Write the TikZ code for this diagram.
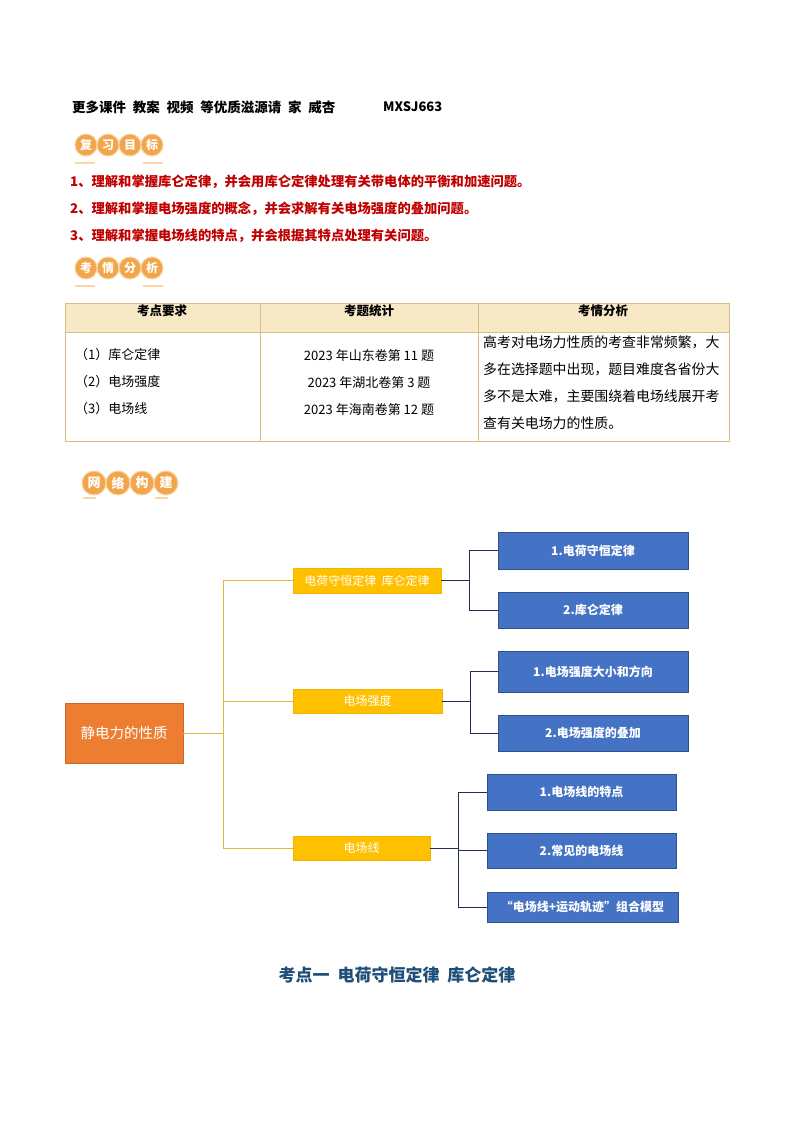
\documentclass[tikz,border=0pt]{standalone}
\usepackage{fontspec}
\setmainfont{Noto Sans CJK SC}
\usetikzlibrary{calc}
\definecolor{rootc}{HTML}{ED7D31}
\definecolor{rootd}{HTML}{C9672A}
\definecolor{yelc}{HTML}{FFC000}
\definecolor{yeld}{HTML}{F2B400}
\definecolor{bluec}{HTML}{4472C4}
\definecolor{blued}{HTML}{2F528F}
\definecolor{navyc}{HTML}{1F2F4F}
\definecolor{olinec}{HTML}{E8B43A}
\definecolor{redc}{HTML}{C00000}
\definecolor{titlec}{HTML}{1F4E79}
\definecolor{badgec}{HTML}{F2A54A}
\definecolor{badgel}{HTML}{F9D5A8}
\definecolor{theadc}{HTML}{F7E8C6}
\definecolor{tlinec}{HTML}{D8BD86}
\begin{document}
\begin{tikzpicture}[x=1pt,y=-1pt,
  fs/.style={font=\fontsize{#1}{#1}\selectfont},
  rootbox/.style={draw=rootd,fill=rootc,line width=0.6pt,text=white,inner sep=0pt,font=\fontsize{14.5}{16}\selectfont},
  ybox/.style={draw=yeld,fill=yelc,line width=0.6pt,text=white,inner sep=0pt,font=\fontsize{12}{14}\selectfont},
  bbox/.style={draw=blued,fill=bluec,line width=0.6pt,text=white,inner sep=0pt,font=\bfseries\fontsize{12}{14}\selectfont},
  oline/.style={draw=olinec,line width=1pt},
  nline/.style={draw=navyc,line width=1pt},
  badge/.style={circle,fill=badgec,draw=badgel,line width=1pt,minimum size=22pt,inner sep=0pt,text=white,font=\bfseries\fontsize{12}{12}\selectfont},
  badgeline/.style={draw=badgel,line width=2pt},
  redtext/.style={anchor=west,text=redc,inner sep=0pt,font=\bfseries\fontsize{13.3}{15}\selectfont},
  tline/.style={draw=tlinec,line width=0.9pt},
  ttext/.style={inner sep=0pt,font=\fontsize{13}{15}\selectfont},
  thead/.style={inner sep=0pt,font=\bfseries\fontsize{12.5}{15}\selectfont}
]
\useasboundingbox (0,0) rectangle (794,1123);
\fill[white] (0,0) rectangle (794,1123);

% header
\node[anchor=west,inner sep=0pt,font=\bfseries\fontsize{13.5}{15}\selectfont] (hdr) at (72,107) {更多课件\hskip .5em 教案\hskip .5em 视频\hskip .5em 等优质滋源请\hskip .5em 家\hskip .5em 威杏};
\node[anchor=west,inner sep=0pt,font=\bfseries\fontsize{13}{15}\selectfont] (code) at (383,107) {MXSJ663};

% badge 1
\foreach \ch [count=\i] in {复,习,目,标} {
  \node[badge] (ba\i) at ({64+22*\i},145) {\ch};
}
\draw[badgeline] (75,163) -- (95,163);
\draw[badgeline] (143,163) -- (163,163);

% goals
\node[redtext] (g1) at (70,182) {1、理解和掌握库仑定律，并会用库仑定律处理有关带电体的平衡和加速问题。};
\node[redtext] (g2) at (70,209) {2、理解和掌握电场强度的概念，并会求解有关电场强度的叠加问题。};
\node[redtext] (g3) at (70,236) {3、理解和掌握电场线的特点，并会根据其特点处理有关问题。};

% badge 2
\foreach \ch [count=\i] in {考,情,分,析} {
  \node[badge] (bb\i) at ({64+22*\i},268) {\ch};
}
\draw[badgeline] (75,286) -- (95,286);
\draw[badgeline] (143,286) -- (163,286);

% table
\fill[theadc] (65,303) rectangle (729,332);
\draw[tline] (65,303) rectangle (729,441);
\draw[tline] (65,332) -- (729,332);
\draw[tline] (260,303) -- (260,441);
\draw[tline] (478,303) -- (478,441);
\node[thead] (h1) at (162,311) {考点要求};
\node[thead] (h2) at (369,311) {考题统计};
\node[thead] (h3) at (603,311) {考情分析};
\node[ttext,anchor=west] (c11) at (75,355) {（1）库仑定律};
\node[ttext,anchor=west] (c12) at (75,382) {（2）电场强度};
\node[ttext,anchor=west] (c13) at (75,409) {（3）电场线};
\node[ttext] (c21) at (369,356) {2023 年山东卷第 11 题};
\node[ttext] (c22) at (369,383) {2023 年湖北卷第 3 题};
\node[ttext] (c23) at (369,410) {2023 年海南卷第 12 题};
\node[ttext,anchor=west,fs=13.9] (c31) at (483,342) {高考对电场力性质的考查非常频繁，大};
\node[ttext,anchor=west,fs=13.9] (c32) at (483,369) {多在选择题中出现，题目难度各省份大};
\node[ttext,anchor=west,fs=13.9] (c33) at (483,396) {多不是太难，主要围绕着电场线展开考};
\node[ttext,anchor=west,fs=13.9] (c34) at (483,423) {查有关电场力的性质。};

% badge 3
\foreach \ch [count=\i] in {网,络,构,建} {
  \node[badge,minimum size=24pt,font=\bfseries\fontsize{13}{13}\selectfont] (bc\i) at ({70+24*\i},483) {\ch};
}
\draw[badgeline] (83,498) -- (96,498);
\draw[badgeline] (155,498) -- (168,498);

% mind map
\node[rootbox,minimum width=118pt,minimum height=60pt] (root) at (124,733) {静电力的性质};
\node[ybox,minimum width=148pt,minimum height=25pt] (y1) at (367,580.5) {电荷守恒定律\ \ 库仑定律};
\node[ybox,minimum width=149pt,minimum height=24pt] (y2) at (367.5,701) {电场强度};
\node[ybox,minimum width=137pt,minimum height=24pt] (y3) at (361.5,848) {电场线};

\node[bbox,minimum width=190pt,minimum height=37pt] (b11) at (593,550.5) {1.电荷守恒定律};
\node[bbox,minimum width=190pt,minimum height=36pt] (b12) at (593,610) {2.库仑定律};
\node[bbox,minimum width=190pt,minimum height=41pt] (b21) at (593,671.5) {1.电场强度大小和方向};
\node[bbox,minimum width=190pt,minimum height=36pt] (b22) at (593,733) {2.电场强度的叠加};
\node[bbox,minimum width=189pt,minimum height=36pt] (b31) at (581.5,792) {1.电场线的特点};
\node[bbox,minimum width=189pt,minimum height=35pt] (b32) at (581.5,850.5) {2.常见的电场线};
\node[bbox,minimum width=191pt,minimum height=30pt] (b33) at (582.5,907) {“电场线+运动轨迹”组合模型};

\coordinate (s0) at (223,733);
\draw[oline] (root.east) -- (s0);
\draw[oline] (s0) |- (y1.west);
\draw[oline] (s0) |- (y2.west);
\draw[oline] (s0) |- (y3.west);

\coordinate (t1) at (469,580.5);
\draw[nline] (y1.east) -- (t1);
\draw[nline] (t1) |- (b11.west);
\draw[nline] (t1) |- (b12.west);

\coordinate (t2) at (470,701);
\draw[nline] (y2.east) -- (t2);
\draw[nline] (t2) |- (b21.west);
\draw[nline] (t2) |- (b22.west);

\coordinate (t3) at (458,848);
\draw[nline] (y3.east) -- (t3);
\draw[nline] (t3) |- (b31.west);
\draw[nline] (t3) |- (b32.west);
\draw[nline] (t3) |- (b33.west);

% section title
\node[inner sep=0pt,text=titlec,font=\bfseries\fontsize{17}{19}\selectfont] (title) at (397,975) {考点一\ \ 电荷守恒定律\ \ 库仑定律};
\end{tikzpicture}
\end{document}
